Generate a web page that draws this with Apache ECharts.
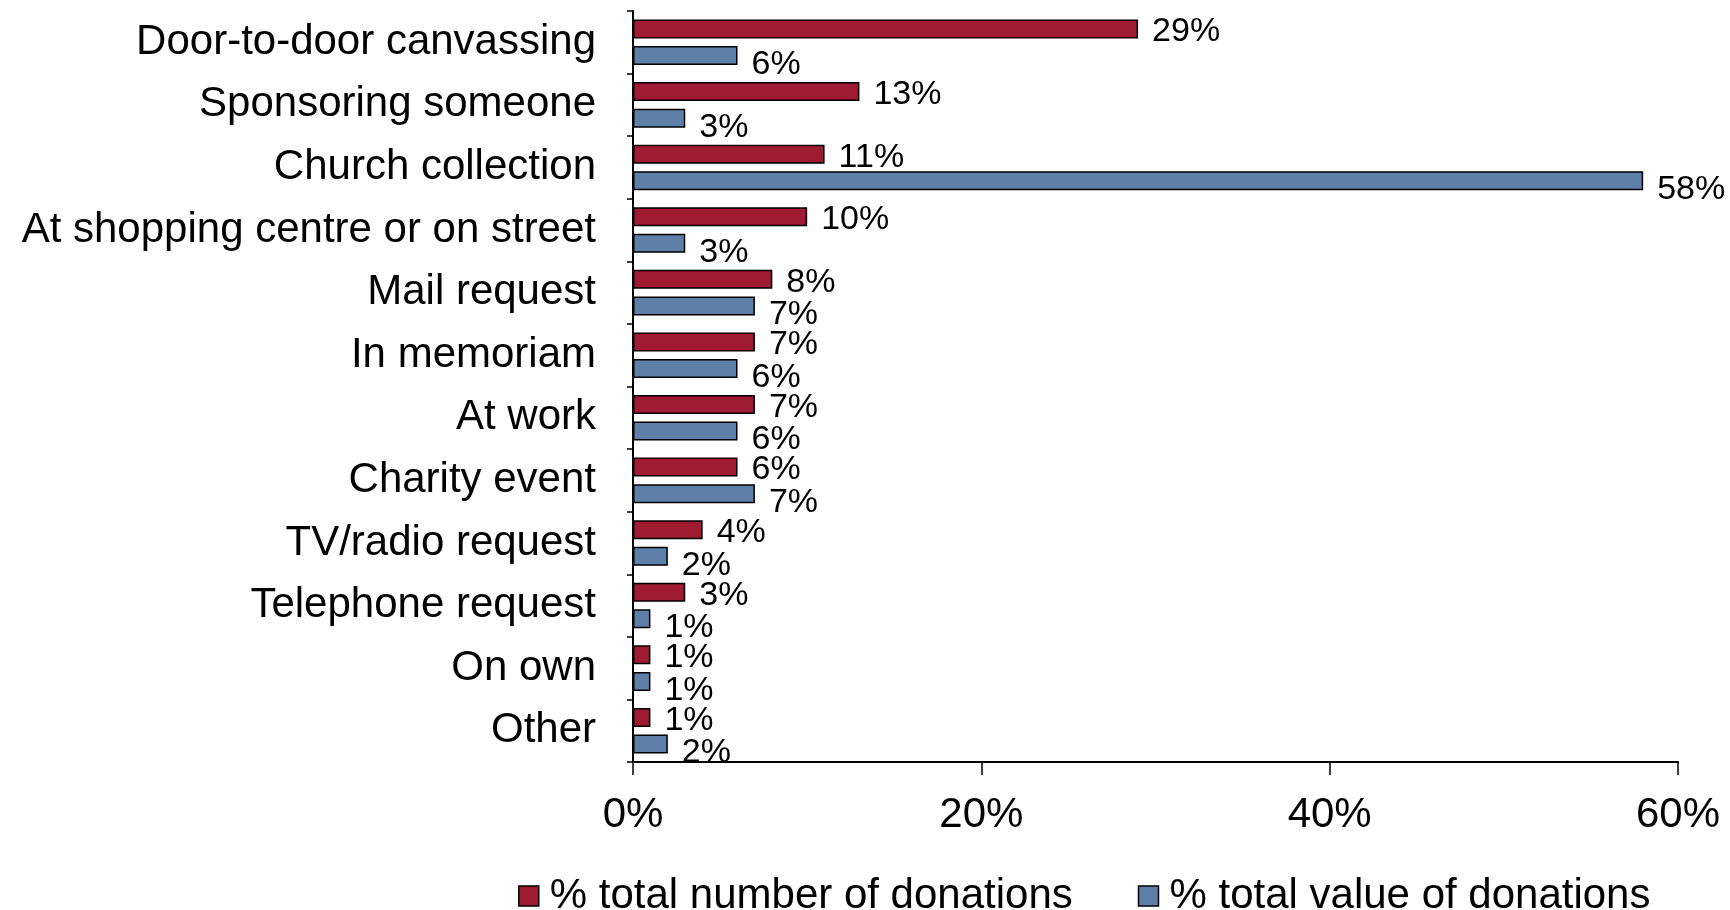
<!DOCTYPE html>
<html>
<head>
<meta charset="utf-8">
<script src="https://cdn.jsdelivr.net/npm/echarts@6/dist/echarts.min.js"></script>
<style>
html,body{margin:0;padding:0;background:#fff;}
#chart{width:1730px;height:910px;}
</style>
</head>
<body>
<div id="chart"></div>
<script>
const categories = ["Door-to-door canvassing","Sponsoring someone","Church collection","At shopping centre or on street","Mail request","In memoriam","At work","Charity event","TV/radio request","Telephone request","On own","Other"];
const seriesNames = ["% total number of donations","% total value of donations"];
const numberOfDonations = [29,13,11,10,8,7,7,6,4,3,1,1];
const valueOfDonations = [6,3,58,3,7,6,6,7,2,1,1,2];
const xTicks = [0,20,40,60];

const FONT = "Liberation Sans, Arial, sans-serif";
const chart = echarts.init(document.getElementById('chart'), null, {renderer:'canvas'});
chart.setOption({
  animation:false,
  backgroundColor:'#ffffff',
  textStyle:{fontFamily:FONT,color:'#000'},
  grid:{left:633,right:52,top:11,bottom:148,containLabel:false},
  legend:{
    data:seriesNames,
    left:513, top:870,
    itemWidth:20, itemHeight:20, itemGap:65,
    icon:'rect',
    textStyle:{fontFamily:FONT,fontSize:42,color:'#000',padding:[0,0,0,6]},
    itemStyle:{borderColor:'#000',borderWidth:1.5}
  },
  xAxis:{
    type:'value', min:xTicks[0], max:xTicks[xTicks.length-1], interval:20,
    axisLine:{show:true,lineStyle:{color:'#000',width:2}},
    axisTick:{show:true,length:13,lineStyle:{color:'#000',width:1.5}},
    splitLine:{show:false},
    axisLabel:{formatter:'{value}%',fontFamily:FONT,fontSize:42,color:'#000',margin:32}
  },
  yAxis:{
    type:'category', data:categories, inverse:true,
    axisLine:{show:true,lineStyle:{color:'#000',width:2}},
    axisTick:{show:true,length:6,lineStyle:{color:'#000',width:1.5}},
    axisLabel:{fontFamily:FONT,fontSize:42,color:'#000',margin:37}
  },
  series:[
    {
      name:seriesNames[0], type:'bar', data:numberOfDonations,
      barWidth:19, barGap:'40%',
      itemStyle:{color:'#9E1B32',borderColor:'#000',borderWidth:1.5},
      label:{show:true,position:'right',distance:14,formatter:'{c}%',fontFamily:FONT,fontSize:34,color:'#000',offset:[0,3]}
    },
    {
      name:seriesNames[1], type:'bar', data:valueOfDonations,
      barWidth:19, barGap:'40%',
      itemStyle:{color:'#5E7FA8',borderColor:'#000',borderWidth:1.5},
      label:{show:true,position:'right',distance:14,formatter:'{c}%',fontFamily:FONT,fontSize:34,color:'#000',offset:[0,9]}
    }
  ]
});
</script>
</body>
</html>
